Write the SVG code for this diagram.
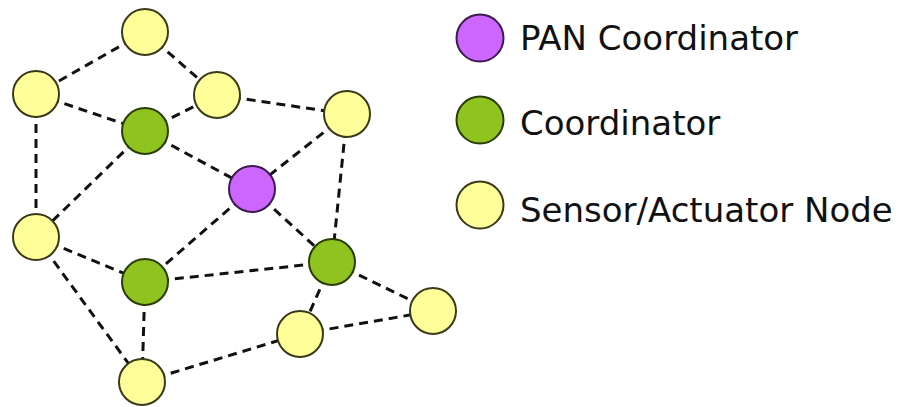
<svg xmlns="http://www.w3.org/2000/svg" width="904" height="407" viewBox="0 0 904 407">
<style>
.e{stroke:#111;stroke-width:3;stroke-dasharray:9 6;fill:none}
.y{fill:#ffff99;stroke:#3a3a1a;stroke-width:2}
.g{fill:#8fc31f;stroke:#2a3d05;stroke-width:2}
.p{fill:#cc66ff;stroke:#3d1a4d;stroke-width:2}
.t{font-family:"DejaVu Sans",Verdana,sans-serif;font-size:34px;fill:#111}
</style>
<rect width="904" height="407" fill="#fff"/>
<g id="connectors">
<line class="e" x1="145" y1="32" x2="36" y2="94"/>
<line class="e" x1="145" y1="32" x2="217" y2="95"/>
<line class="e" x1="36" y1="94" x2="145" y2="131"/>
<line class="e" x1="145" y1="131" x2="217" y2="95"/>
<line class="e" x1="217" y1="95" x2="347" y2="114"/>
<line class="e" x1="145" y1="131" x2="252" y2="189"/>
<line class="e" x1="347" y1="114" x2="252" y2="189"/>
<line class="e" x1="36" y1="94" x2="36" y2="237"/>
<line class="e" x1="145" y1="131" x2="36" y2="237"/>
<line class="e" x1="347" y1="114" x2="332" y2="262"/>
<line class="e" x1="252" y1="189" x2="332" y2="262"/>
<line class="e" x1="252" y1="189" x2="145" y2="282"/>
<line class="e" x1="36" y1="237" x2="145" y2="282"/>
<line class="e" x1="36" y1="237" x2="142" y2="382"/>
<line class="e" x1="145" y1="282" x2="142" y2="382"/>
<line class="e" x1="145" y1="282" x2="332" y2="262"/>
<line class="e" x1="332" y1="262" x2="433" y2="311"/>
<line class="e" x1="332" y1="262" x2="300" y2="334"/>
<line class="e" x1="300" y1="334" x2="433" y2="311"/>
<line class="e" x1="142" y1="382" x2="300" y2="334"/>
</g>
<g id="n1"><circle class="y" cx="145" cy="32" r="23"/></g>
<g id="n2"><circle class="y" cx="36" cy="94" r="23"/></g>
<g id="n3"><circle class="y" cx="217" cy="95" r="23"/></g>
<g id="n4"><circle class="g" cx="145" cy="131" r="23"/></g>
<g id="n5"><circle class="y" cx="347" cy="114" r="23"/></g>
<g id="n6"><circle class="p" cx="252" cy="189" r="23"/></g>
<g id="n7"><circle class="y" cx="36" cy="237" r="23"/></g>
<g id="n8"><circle class="g" cx="145" cy="282" r="23"/></g>
<g id="n9"><circle class="g" cx="332" cy="262" r="23"/></g>
<g id="n10"><circle class="y" cx="433" cy="311" r="23"/></g>
<g id="n11"><circle class="y" cx="300" cy="334" r="23"/></g>
<g id="n12"><circle class="y" cx="142" cy="382" r="23"/></g>
<g id="legend">
<circle class="p" cx="480" cy="38" r="23.5"/>
<text class="t" x="520" y="50">PAN Coordinator</text>
<circle class="g" cx="480" cy="120" r="23.5"/>
<text class="t" x="520" y="135">Coordinator</text>
<circle class="y" cx="480" cy="205" r="23.5"/>
<text class="t" x="520" y="222">Sensor/Actuator Node</text>
</g>
</svg>
